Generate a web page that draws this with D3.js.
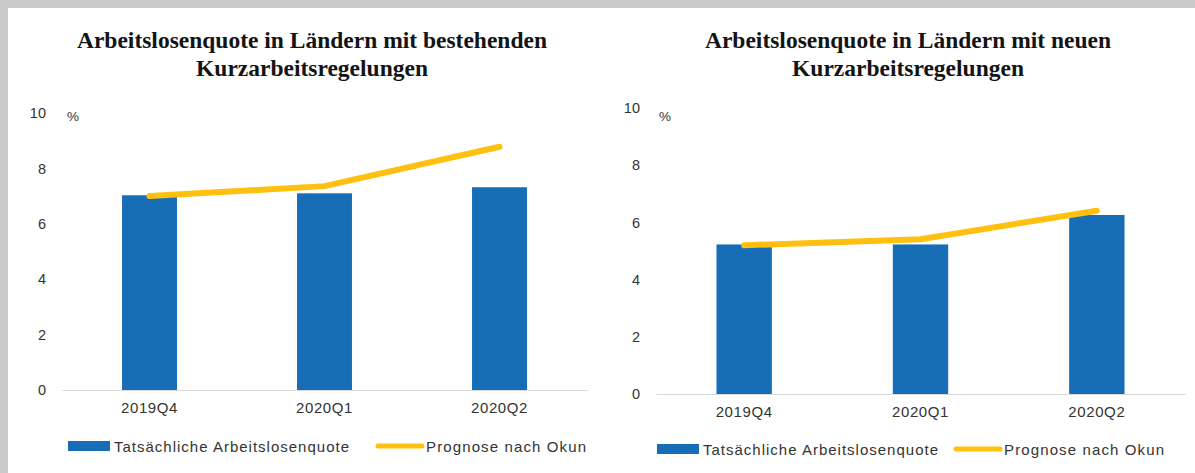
<!DOCTYPE html>
<html><head><meta charset="utf-8">
<script src="https://cdn.jsdelivr.net/npm/d3@7"></script>
<style>html,body{margin:0;padding:0;background:#fff;overflow:hidden}</style>
</head><body>
<svg id="c" width="1195" height="473"></svg>
<script>
const categories = ["2019Q4", "2020Q1", "2020Q2"];
const actualLeft = [7.03, 7.1, 7.32];
const okunLeft = [7.0, 7.36, 8.78];
const actualRight = [5.23, 5.23, 6.26];
const okunRight = [5.2, 5.41, 6.41];
const yTicks = [0, 2, 4, 6, 8, 10];
const titlesLeft = ["Arbeitslosenquote in Ländern mit bestehenden", "Kurzarbeitsregelungen"];
const titlesRight = ["Arbeitslosenquote in Ländern mit neuen", "Kurzarbeitsregelungen"];
const legendLabels = ["Tatsächliche Arbeitslosenquote", "Prognose nach Okun"];

const BLUE = "#176eb7", GOLD = "#ffc010", TXT = "#333333";
const svg = d3.select("#c");
svg.append("rect").attr("width", 1195).attr("height", 473).attr("fill", "#fff");
svg.append("rect").attr("x", 0).attr("y", 0).attr("width", 1195).attr("height", 8).attr("fill", "#c8c9cb");
svg.append("rect").attr("x", 0).attr("y", 0).attr("width", 8).attr("height", 473).attr("fill", "#c8c9cb");

function panel(o) {
  const g = svg.append("g");
  const x = d3.scaleBand().domain(categories).range([o.x0, o.x1]).paddingInner(0.686).paddingOuter(0.343);
  const y = d3.scaleLinear().domain([0, 10]).range([o.y0, o.y1]);
  // titles
  o.titles.forEach((t, i) => {
    g.append("text").attr("x", o.tx).attr("y", 48 + i * 28).attr("text-anchor", "middle")
      .attr("font-family", "Liberation Serif, Times New Roman, serif").attr("font-weight", "bold")
      .attr("font-size", 23.5).attr("fill", "#141414").text(t);
  });
  // y axis labels
  const ya = d3.axisLeft(y).tickValues(yTicks).tickSize(0).tickPadding(0);
  const yg = g.append("g").attr("transform", `translate(${o.yLabX},0)`).call(ya);
  yg.select(".domain").remove();
  yg.selectAll("text").attr("font-family", "Liberation Sans, Arial, sans-serif").attr("font-size", 14.5).attr("fill", TXT);
  g.append("text").attr("x", o.pctX).attr("y", 121).attr("font-family", "Liberation Sans, Arial, sans-serif")
    .attr("font-size", 13.5).attr("fill", TXT).text("%");
  // bars
  g.selectAll("rect.bar").data(o.actual).join("rect").attr("class", "bar")
    .attr("x", (d, i) => x(categories[i])).attr("width", x.bandwidth())
    .attr("y", d => y(d)).attr("height", d => y(0) - y(d)).attr("fill", BLUE);
  // baseline / x axis
  const xa = d3.axisBottom(x).tickSize(0).tickPadding(12);
  const xg = g.append("g").attr("transform", `translate(0,${o.y0})`).call(xa);
  xg.select(".domain").attr("stroke", "#d9d9d9").attr("stroke-width", 1.2);
  xg.selectAll("text").attr("font-family", "Liberation Sans, Arial, sans-serif").attr("font-size", 15)
    .attr("letter-spacing", "0.6px").attr("fill", TXT);
  // line
  const line = d3.line().x((d, i) => x(categories[i]) + x.bandwidth() / 2).y(d => y(d));
  g.append("path").datum(o.okun).attr("d", line).attr("fill", "none").attr("stroke", GOLD)
    .attr("stroke-width", 6).attr("stroke-linecap", "round").attr("stroke-linejoin", "round");
  // legend
  const ly = o.legY;
  g.append("rect").attr("x", o.lx0).attr("y", ly - 5).attr("width", 42).attr("height", 10).attr("fill", BLUE);
  g.append("text").attr("x", o.lx0 + 46).attr("y", ly + 5.5).attr("font-family", "Liberation Sans, Arial, sans-serif")
    .attr("font-size", 15).attr("fill", TXT).attr("textLength", 235).attr("lengthAdjust", "spacing").text(legendLabels[0]);
  g.append("line").attr("x1", o.lx1).attr("x2", o.lx1 + 44).attr("y1", ly).attr("y2", ly)
    .attr("stroke", GOLD).attr("stroke-width", 5).attr("stroke-linecap", "round");
  g.append("text").attr("x", o.lx1 + 48).attr("y", ly + 5.5).attr("font-family", "Liberation Sans, Arial, sans-serif")
    .attr("font-size", 15).attr("fill", TXT).attr("textLength", 160).attr("lengthAdjust", "spacing").text(legendLabels[1]);
}

panel({x0: 62, x1: 587, y0: 390, y1: 113, tx: 312, titles: titlesLeft, yLabX: 46, pctX: 67,
  actual: actualLeft, okun: okunLeft, legY: 446, lx0: 68, lx1: 378});
panel({x0: 656, x1: 1185, y0: 394, y1: 108, tx: 908, titles: titlesRight, yLabX: 640, pctX: 659,
  actual: actualRight, okun: okunRight, legY: 449, lx0: 657, lx1: 956});
</script>
</body></html>
